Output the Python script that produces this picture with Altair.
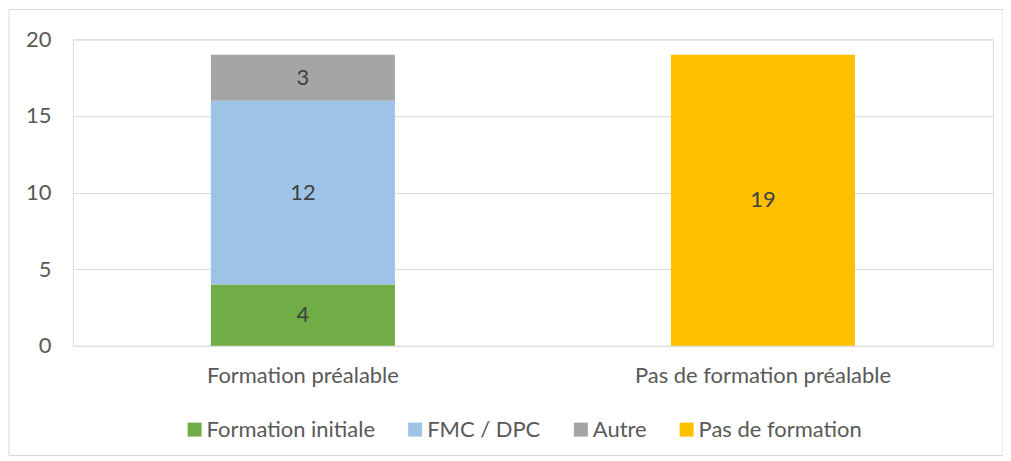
import altair as alt
import pandas as pd

categories = ["Formation préalable", "Formation préalable", "Formation préalable", "Pas de formation préalable"]
series = ["Formation initiale", "FMC / DPC", "Autre", "Pas de formation"]
values = [4, 12, 3, 19]
order = [1, 2, 3, 4]
colors = ["#70AD47", "#9DC3E6", "#A5A5A5", "#FFC000"]
y_ticks = [0, 5, 10, 15, 20]

df = pd.DataFrame({"cat": categories, "serie": series, "val": values, "ord": order})

FONT = "Lato"
FS = 22
W, H = 922, 307

base = alt.Chart(df)

border = alt.Chart(pd.DataFrame({"a": [0]})).mark_rect(
    fill=None, stroke="#D9D9D9", strokeWidth=1
).encode(
    x=alt.value(-64), x2=alt.value(932), y=alt.value(-30), y2=alt.value(417)
)

bars = base.mark_bar().encode(
    x=alt.X("cat:N", title=None, sort=None,
            scale=alt.Scale(paddingInner=0.6, paddingOuter=0.3),
            axis=alt.Axis(labelAngle=0, domain=False, ticks=False, labelPadding=20,
                          labelLimit=400,
                          labelFont=FONT, labelFontSize=FS, labelColor="#595959")),
    y=alt.Y("val:Q", title=None, stack="zero",
            scale=alt.Scale(domain=[0, 20], nice=False),
            axis=alt.Axis(values=y_ticks, domain=False, ticks=False, labelPadding=22,
                          gridColor="#D9D9D9", labelFont=FONT, labelFontSize=FS,
                          labelColor="#595959")),
    color=alt.Color("serie:N", sort=series,
                    scale=alt.Scale(domain=series, range=colors),
                    legend=alt.Legend(title=None, orient="none", direction="horizontal",
                                      legendX=111, legendY=380, symbolType="square",
                                      symbolSize=196, symbolStrokeWidth=0, symbolOpacity=1,
                                      labelOffset=1, columnPadding=29, labelLimit=400,
                                      labelFont=FONT, labelFontSize=FS, labelColor="#595959")),
    order=alt.Order("ord:Q", sort="ascending"),
)

labels = base.transform_stack(
    stack="val", groupby=["cat"], as_=["y0", "y1"], sort=[alt.SortField("ord", order="ascending")]
).transform_calculate(
    mid="(datum.y0 + datum.y1) / 2"
).mark_text(font=FONT, fontSize=FS, color="#404040", baseline="middle").encode(
    x=alt.X("cat:N", sort=None),
    y=alt.Y("mid:Q"),
    text=alt.Text("val:Q"),
)

chart = alt.layer(border, bars, labels).properties(
    width=W, height=H,
    padding={"left": 65, "top": 31, "right": 10, "bottom": 110},
    autosize=alt.AutoSizeParams(type="none"),
).configure_view(stroke=None).configure(background="white")

chart.save("out.html", embed_options={"renderer": "svg", "actions": False})
